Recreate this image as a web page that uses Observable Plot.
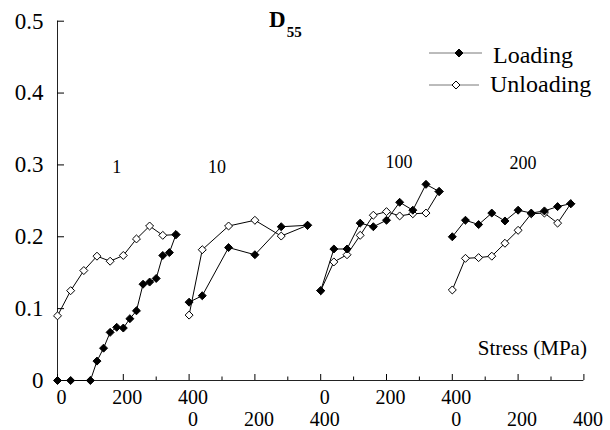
<!DOCTYPE html>
<html><head><meta charset="utf-8">
<script src="https://cdn.jsdelivr.net/npm/d3@7"></script>
<script src="https://cdn.jsdelivr.net/npm/@observablehq/plot@0.6"></script>
<style>
html,body{margin:0;padding:0;background:#fff;}
#chart{width:610px;height:430px;}
#chart svg, #chart svg text{font-family:"Liberation Serif","Times New Roman",serif !important;}
</style></head><body><div id="chart"></div>
<script>
// ---- data (stress in MPa within each cycle panel, D55 value) ----
const cycles = ["1", "10", "100", "200"];
const panelSpan = 400;

const loadStress = [
  [0, 40, 100, 120, 140, 160, 180, 200, 220, 240, 260, 280, 300, 320, 340, 360],
  [0, 40, 120, 200, 280, 360],
  [0, 40, 80, 120, 160, 200, 240, 280, 320, 360],
  [0, 40, 80, 120, 160, 200, 240, 280, 320, 360]
];
const loadD55 = [
  [0, 0, 0, 0.027, 0.045, 0.067, 0.074, 0.073, 0.086, 0.097, 0.134, 0.137, 0.142, 0.174, 0.178, 0.203],
  [0.109, 0.118, 0.185, 0.175, 0.214, 0.216],
  [0.125, 0.183, 0.183, 0.219, 0.214, 0.223, 0.248, 0.237, 0.273, 0.263],
  [0.200, 0.223, 0.217, 0.233, 0.222, 0.237, 0.233, 0.236, 0.242, 0.246]
];
const unloadStress = [
  [360, 320, 280, 240, 200, 160, 120, 80, 40, 0],
  [360, 280, 200, 120, 40, 0],
  [360, 320, 280, 240, 200, 160, 120, 80, 40, 0],
  [360, 320, 280, 240, 200, 160, 120, 80, 40, 0]
];
const unloadD55 = [
  [0.203, 0.202, 0.215, 0.197, 0.174, 0.166, 0.173, 0.153, 0.125, 0.090],
  [0.216, 0.201, 0.223, 0.215, 0.182, 0.091],
  [0.263, 0.233, 0.232, 0.229, 0.235, 0.230, 0.202, 0.175, 0.165, 0.125],
  [0.246, 0.219, 0.233, 0.232, 0.209, 0.191, 0.173, 0.171, 0.170, 0.126]
];

// cycle-number labels (stress, D55 within each panel)
const cycleLabelStress = [180, 85, 238, 215];
const cycleLabelD55 = [0.297, 0.297, 0.304, 0.303];

const yTicks = [0, 0.1, 0.2, 0.3, 0.4, 0.5];
const yTickLabels = ["0", "0.1", "0.2", "0.3", "0.4", "0.5"];
const xMajor = [0, 200, 400];
const xMinor = [100, 300];
const xTickLabels = ["0", "200", "400"];

const seriesNames = ["Loading", "Unloading"];
const title = "D";
const titleSub = "55";
const xTitle = "Stress (MPa)";

// ---- build tables ----
const rows = (S, V) => S.flatMap((ss, i) => ss.map((s, j) => ({panel: i, X: i * panelSpan + s, v: V[i][j]})));
const loading = rows(loadStress, loadD55);
const unloading = rows(unloadStress, unloadD55);

const majorAll = [], minorAll = [], xLabels = [];
cycles.forEach((c, i) => {
  xMajor.forEach((s, j) => {
    if (i === 0 || s > 0) majorAll.push(i * panelSpan + s);
    xLabels.push({X: i * panelSpan + s, row: i % 2, t: xTickLabels[j]});
  });
  xMinor.forEach(s => minorAll.push(i * panelSpan + s));
});
const cycleLabels = cycles.map((c, i) => ({X: i * panelSpan + cycleLabelStress[i], v: cycleLabelD55[i], t: c}));

const serif = "Liberation Serif, Times New Roman, serif";

const chart = Plot.plot({
  width: 610,
  height: 430,
  marginLeft: 57,
  marginRight: 26.6,
  marginTop: 20.7,
  marginBottom: 50,
  x: {domain: [0, panelSpan * cycles.length]},
  y: {domain: [0, 0.5]},
  style: "font-family: 'Liberation Serif', serif; color: black; background: white; overflow: visible;",
  marks: [
    Plot.ruleX([0], {stroke: "#222", strokeWidth: 1}),
    Plot.ruleY([0], {stroke: "#222", strokeWidth: 1}),
    Plot.axisY(yTicks, {tickSize: -7, tickPadding: 21, fontSize: 23, fontFamily: serif, label: null,
      tickFormat: d => yTickLabels[yTicks.indexOf(d)]}),
    Plot.axisX(majorAll, {tickSize: -6, tickFormat: () => "", label: null}),
    Plot.axisX(minorAll, {tickSize: -3.5, tickFormat: () => "", label: null}),
    Plot.text(xLabels.filter(d => d.row === 0), {x: "X", y: () => 0, text: "t", dy: 17, dx: 4, fontSize: 20, fontFamily: serif, fill: "black"}),
    Plot.text(xLabels.filter(d => d.row === 1), {x: "X", y: () => 0, text: "t", dy: 39, dx: 4, fontSize: 20, fontFamily: serif, fill: "black"}),
    Plot.text([xTitle], {frameAnchor: "bottom-right", textAnchor: "end", dx: 3, dy: -26, fontSize: 21, fontFamily: serif, fill: "black"}),
    Plot.text(cycleLabels, {x: "X", y: "v", text: "t", fontSize: 18, fontFamily: serif, fill: "black"}),
    Plot.line(unloading, {x: "X", y: "v", z: "panel", stroke: "black", strokeWidth: 1}),
    Plot.line(loading, {x: "X", y: "v", z: "panel", stroke: "black", strokeWidth: 1}),
    Plot.dot(unloading, {x: "X", y: "v", symbol: "diamond2", r: 3.6, fill: "white", stroke: "black", strokeWidth: 1}),
    Plot.dot(loading, {x: "X", y: "v", symbol: "diamond2", r: 3.6, fill: "black", stroke: "black", strokeWidth: 1})
  ]
});
document.getElementById("chart").appendChild(chart);

// ---- title and legend ----
const svg = d3.select(chart);
const g = svg.append("g").attr("font-family", serif).attr("fill", "black").attr("text-anchor", "start");
const t = g.append("text").attr("x", 269).attr("y", 27).attr("font-weight", "bold").attr("font-size", 23);
t.append("tspan").text(title);
t.append("tspan").attr("font-size", 15).attr("dx", 1).attr("dy", 10).text(titleSub);

const legendItems = [
  {name: seriesNames[0], fill: "black", ly: 53, x1: 429, x2: 482, mx: 459, tx: 493, ty: 63, r: 3.6},
  {name: seriesNames[1], fill: "white", ly: 85, x1: 429, x2: 479, mx: 456, tx: 490, ty: 92, r: 3.6}
];
const sym = d3.symbol(d3.symbolDiamond2);
legendItems.forEach(d => {
  g.append("line").attr("x1", d.x1).attr("x2", d.x2).attr("y1", d.ly).attr("y2", d.ly)
    .attr("stroke", "#555").attr("stroke-width", 0.8);
  g.append("path").attr("d", sym.size(Math.PI * d.r * d.r)()).attr("transform", `translate(${d.mx},${d.ly})`)
    .attr("fill", d.fill).attr("stroke", "black").attr("stroke-width", 1);
  g.append("text").attr("x", d.tx).attr("y", d.ty).attr("font-size", 24).text(d.name);
});
</script></body></html>
